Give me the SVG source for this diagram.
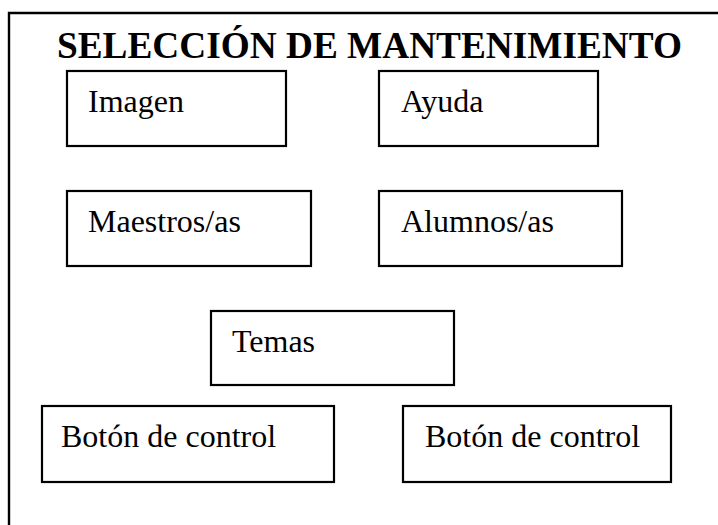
<svg xmlns="http://www.w3.org/2000/svg" width="718" height="525" viewBox="0 0 718 525">
<style>
.box{fill:#fff;stroke:#000;stroke-width:2.2}
.lbl{font-family:"Liberation Serif","Times New Roman",serif;font-size:32px;fill:#000}
.title{font-family:"Liberation Serif","Times New Roman",serif;font-size:37.5px;font-weight:bold;fill:#000}
</style>
<rect width="718" height="525" fill="#fff"/>
<g id="frame">
<path d="M9,525 V13 H718" fill="none" stroke="#000" stroke-width="2.4"/>
<text class="title" x="57" y="58" textLength="625" lengthAdjust="spacingAndGlyphs">SELECCIÓN DE MANTENIMIENTO</text>
</g>
<g id="connectors"></g>
<g id="imagen"><rect class="box" x="67" y="71" width="219" height="75"/><text class="lbl" x="88" y="112">Imagen</text></g>
<g id="ayuda"><rect class="box" x="379" y="71" width="219" height="75"/><text class="lbl" x="401" y="112">Ayuda</text></g>
<g id="maestros"><rect class="box" x="67" y="191" width="244" height="75"/><text class="lbl" x="88" y="232">Maestros/as</text></g>
<g id="alumnos"><rect class="box" x="379" y="191" width="243" height="75"/><text class="lbl" x="401" y="232">Alumnos/as</text></g>
<g id="temas"><rect class="box" x="211" y="311" width="243" height="74"/><text class="lbl" x="232" y="352">Temas</text></g>
<g id="boton1"><rect class="box" x="42" y="406" width="292" height="76"/><text class="lbl" x="61" y="447">Botón de control</text></g>
<g id="boton2"><rect class="box" x="403" y="406" width="268" height="76"/><text class="lbl" x="425" y="447">Botón de control</text></g>
</svg>
